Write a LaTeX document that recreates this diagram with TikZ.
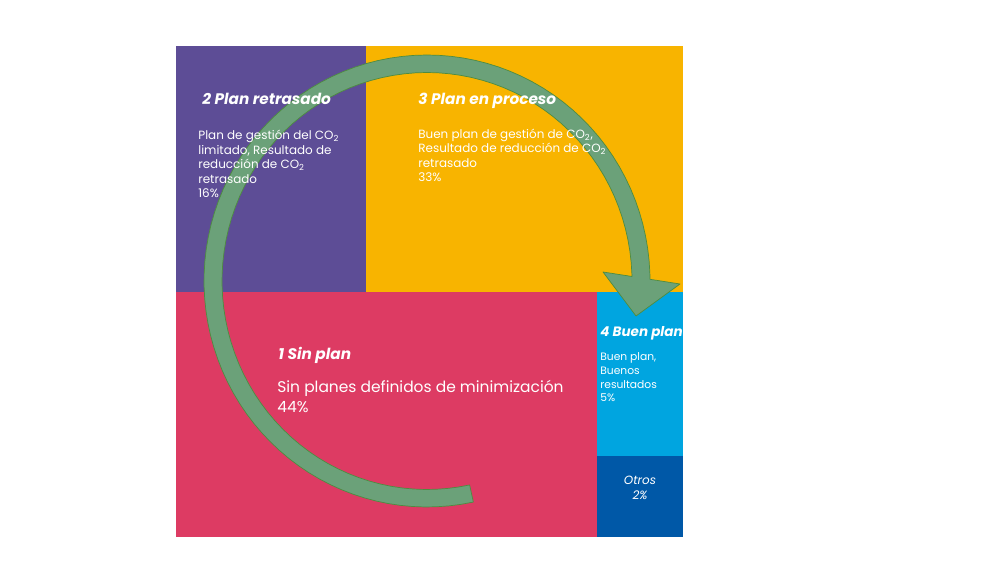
\documentclass[tikz,border=0pt]{standalone}
\usepackage{fontspec}
\setmainfont{Poppins}
\usepackage{tikz}

\definecolor{morado}{RGB}{93,77,150}
\definecolor{naranja}{RGB}{248,180,0}
\definecolor{rojo}{RGB}{221,59,99}
\definecolor{celeste}{RGB}{0,165,224}
\definecolor{azul}{RGB}{0,88,167}
\definecolor{verde}{RGB}{107,161,121}
\definecolor{verdeborde}{RGB}{78,140,64}

\begin{document}
\begin{tikzpicture}[x=0.02cm, y=-0.02cm,
    titulo/.style={anchor=base west, inner sep=0pt, text=white, font=\fontsize{8.7}{10}\selectfont\bfseries\itshape},
    texto/.style={anchor=base west, inner sep=0pt, text=white, align=left, font=\fontsize{6.8}{8.3}\selectfont}]
		\useasboundingbox (0,0) rectangle (1000,563);
		% bloques
		\fill[morado] (176,46) rectangle (366,292);
		\fill[naranja] (366,46) rectangle (683,292);
		\fill[rojo] (176,292) rectangle (597,537);
		\fill[celeste] (597,292) rectangle (683,456);
		\fill[azul] (597,456) rectangle (683,537);
		% flecha circular
		\fill[verde, draw=verdeborde, line width=0.4pt, line join=round]
			plot[domain=78:358, samples=90] ({427+205*cos(\x)},{281+208.5*sin(\x)})
			-- (632,276.5) -- (603,272) -- (636,316) -- (680,284) -- (650,279.3)
			-- plot[domain=358:78, samples=90] ({427+223*cos(\x)},{281+226*sin(\x)})
			-- cycle;
		% textos (anclados en la ultima linea)
		\node[titulo] (t2) at (202,105) {2 Plan retrasado};
		\node[texto] (b2) at (198,198) {Plan de gestión del CO\textsubscript{2}\\limitado, Resultado de\\reducción de CO\textsubscript{2}\\retrasado\\16\%};
		\node[titulo] (t3) at (418,105) {3 Plan en proceso};
		\node[texto] (b3) at (418,182) {Buen plan de gestión de CO\textsubscript{2},\\Resultado de reducción de CO\textsubscript{2}\\retrasado\\33\%};
		\node[titulo] (t1) at (278,360) {1 Sin plan};
		\node[texto, font=\fontsize{8.8}{11.4}\selectfont] (b1) at (277,413) {Sin planes definidos de minimización\\44\%};
		\node[titulo, font=\fontsize{7.7}{9}\selectfont\bfseries\itshape] (t4) at (600,337) {4 Buen plan};
		\node[texto, font=\fontsize{6.1}{7.8}\selectfont] (b4) at (600,402) {Buen plan,\\Buenos\\resultados\\5\%};
		\node[texto, anchor=base, align=center, font=\fontsize{6.8}{8.5}\selectfont\itshape] (otros) at (640,499) {Otros\\2\%};
    \end{tikzpicture}
\end{document}
